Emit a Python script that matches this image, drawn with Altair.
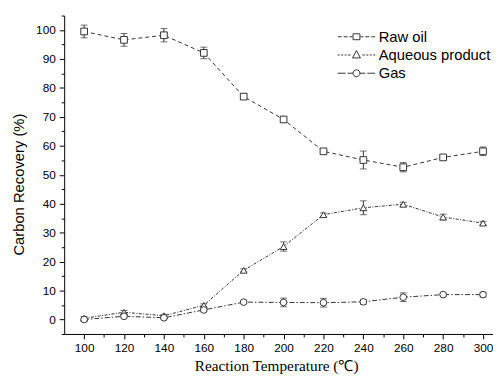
import altair as alt
import pandas as pd

# ---- data ----
temps = [100, 120, 140, 160, 180, 200, 220, 240, 260, 280, 300]
series_names = ["Raw oil", "Aqueous product", "Gas"]
raw_oil = [99.5, 96.6, 98.2, 92.1, 77.0, 69.1, 58.1, 55.1, 52.6, 56.0, 58.1]
raw_oil_err = [2.2, 2.2, 2.3, 2.0, 1.0, 1.0, 0.8, 3.1, 1.6, 0.5, 1.5]
aqueous = [0.4, 2.5, 1.3, 4.9, 17.0, 25.2, 36.2, 38.6, 39.8, 35.4, 33.3]
aqueous_err = [0.6, 0.6, 0.5, 0.5, 0.5, 1.6, 0.6, 2.4, 0.7, 1.0, 0.6]
gas = [0.0, 1.1, 0.6, 3.3, 6.0, 5.9, 5.8, 6.1, 7.7, 8.6, 8.6]
gas_err = [0.3, 0.4, 0.3, 0.5, 0.5, 1.5, 1.5, 0.8, 1.5, 0.5, 0.8]

rows = []
for name, vals, errs in zip(series_names, [raw_oil, aqueous, gas],
                            [raw_oil_err, aqueous_err, gas_err]):
    for t, v, e in zip(temps, vals, errs):
        rows.append({"T": t, "series": name, "value": v, "lo": v - e, "hi": v + e})
df = pd.DataFrame(rows)

# ---- styling ----
INK = "#333333"
FONT = "Liberation Sans"
SERIF = "Liberation Serif"


# legend glyphs: custom symbol paths (1 unit = 6 px, left edge at -1)
def u(p):
    return round(p / 6.0 - 1.0, 3)


def segs(pairs):
    return "".join(f"M{u(a)},0H{u(b)}" for a, b in pairs)


raw_glyph = (segs([(0, 4), (6, 10), (12, 15), (23, 26), (28, 32), (34, 38)])
             + f"M{u(15.5)},{-0.5}H{u(22.5)}V0.5H{u(15.5)}Z")
aq_glyph = (segs([(0, 2), (3.5, 5.5), (7, 9), (10.5, 13), (25, 27.5), (29, 31), (32.5, 34.5), (36, 38)])
            + f"M{u(19)},{round(-4.5/6, 3)}L{u(23)},0.5L{u(15)},0.5Z")
gas_glyph = (segs([(0, 8), (10, 15.5), (22.5, 28), (30, 38)])
             + f"M{u(15.5)},0A0.583,0.583 0 1,1 {u(22.5)},0A0.583,0.583 0 1,1 {u(15.5)},0Z")

x_axis = alt.Axis(
    title="Reaction Temperature (℃)",
    values=list(range(100, 301, 10)),
    labelExpr="datum.value % 20 === 0 ? datum.label : ''",
    tickSize={"condition": {"test": "datum.value % 20 === 0", "value": 5}, "value": 3},
    grid=False, labelOverlap=False, labelFlush=False,
    domainColor="black", tickColor="black", labelColor="black",
    labelFont=FONT, labelFontSize=12, labelPadding=4,
    titleFont=SERIF, titleFontSize=15.5, titleFontWeight="normal", titleColor="black",
    titleX=215, titleY=32, titleBaseline="middle", titleAlign="center",
)
y_axis = alt.Axis(
    title="Carbon Recovery (%)",
    values=list(range(-5, 106, 5)),
    labelExpr="datum.value % 10 === 0 ? datum.label : ''",
    tickSize={"condition": {"test": "datum.value % 10 === 0", "value": 5}, "value": 3},
    grid=False, labelOverlap=False, labelFlush=False,
    domainColor="black", tickColor="black", labelColor="black",
    labelFont=FONT, labelFontSize=12, labelPadding=4,
    titleFont=FONT, titleFontSize=15, titleFontWeight="normal", titleColor="black",
    titleX=-46, titleY=171, titleBaseline="middle", titleAlign="center", titleAngle=-90,
)

x_scale = alt.Scale(domain=[90, 305], nice=False, zero=False)
y_scale = alt.Scale(domain=[-5, 105], nice=False, zero=False)


def X():
    return alt.X("T:Q", scale=x_scale, axis=x_axis)


def Y(field):
    return alt.Y(f"{field}:Q", scale=y_scale, axis=y_axis)


base = alt.Chart(df)

err_rule = base.mark_rule(color=INK, strokeWidth=1).encode(x=X(), y=Y("lo"), y2="hi:Q")
cap_lo = base.mark_tick(color=INK, thickness=1, size=7, orient="horizontal").encode(x=X(), y=Y("lo"))
cap_hi = base.mark_tick(color=INK, thickness=1, size=7, orient="horizontal").encode(x=X(), y=Y("hi"))

lines = base.mark_line(color=INK, strokeWidth=1).encode(
    x=X(), y=Y("value"),
    strokeDash=alt.StrokeDash("series:N", scale=alt.Scale(
        domain=series_names, range=[[4, 3], [3, 1.5, 1, 1.5], [5, 2, 1.5, 2]]), legend=None),
    detail="series:N",
)

points = base.mark_point(filled=True, fill="white", stroke=INK, strokeWidth=1, opacity=1).encode(
    x=X(), y=Y("value"),
    shape=alt.Shape("series:N", scale=alt.Scale(
        domain=series_names, range=["square", "triangle-up", "circle"]), legend=None),
    size=alt.value(46),
)

legend_layer = base.transform_filter("false").mark_point(
    filled=False, stroke=INK, strokeWidth=1).encode(
    x=X(), y=Y("value"),
    shape=alt.Shape("series:N", scale=alt.Scale(
        domain=series_names, range=[raw_glyph, aq_glyph, gas_glyph]),
        legend=alt.Legend(
            title=None, orient="none", legendX=276, legendY=14, padding=0,
            symbolSize=144, symbolStrokeColor=INK, symbolFillColor="white",
            symbolStrokeWidth=1, symbolOpacity=1,
            labelFont=FONT, labelFontSize=15, labelColor="black",
            labelOffset=28, rowPadding=2.5, labelLimit=200,
        )),
)

chart = alt.layer(err_rule, cap_lo, cap_hi, lines, points, legend_layer).resolve_scale(
    shape="independent"
).properties(
    width=435, height=323,
    autosize=alt.AutoSizeParams(type="none"),
    padding={"left": 57, "top": 5, "right": 0, "bottom": 42},
    background="white",
).configure_view(stroke=None)

chart.save("out.html", embed_options={"renderer": "svg", "actions": False})
